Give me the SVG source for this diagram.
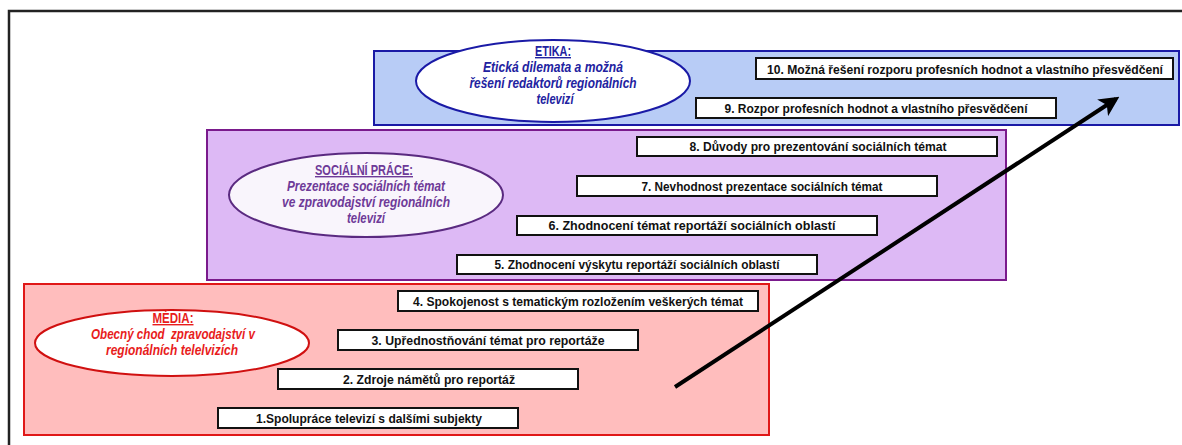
<svg xmlns="http://www.w3.org/2000/svg" width="1182" height="445" viewBox="0 0 1182 445">
<style>
  .box{fill:#ffffff;stroke:#111111;stroke-width:2}
  .bt{font-family:"Liberation Sans",Arial,sans-serif;font-weight:bold;font-size:12.5px;fill:#111111;text-anchor:middle}
  .hd{font-family:"Liberation Sans",Arial,sans-serif;font-weight:bold;font-size:14px;text-anchor:middle;text-decoration:underline}
  .it{font-family:"Liberation Sans",Arial,sans-serif;font-weight:bold;font-style:italic;font-size:14px;text-anchor:middle}
  .blue{fill:#2222a0}
  .purp{fill:#6e3a98}
  .red{fill:#e81c1c}
</style>
<defs>
  <marker id="ah" viewBox="0 0 10 10" refX="8" refY="5" markerWidth="5" markerHeight="5" orient="auto" markerUnits="strokeWidth">
    <path d="M0,0 L10,5 L0,10 L2.5,5 Z" fill="#000"/>
  </marker>
</defs>
<rect width="1182" height="445" fill="#ffffff"/>
<path d="M9,445 L9,11 L1182,11" fill="none" stroke="#222" stroke-width="2.5"/>

<g id="etika">
  <rect x="374" y="51" width="805" height="74" fill="#b8ccf6" stroke="#1a1aa6" stroke-width="2"/>
  <ellipse cx="553" cy="81" rx="137" ry="41" fill="#ffffff" stroke="#1a1aa6" stroke-width="2"/>
  <text class="hd blue" x="553" y="56" textLength="36" lengthAdjust="spacingAndGlyphs">ETIKA:</text>
  <text class="it blue" x="553" y="72" textLength="140" lengthAdjust="spacingAndGlyphs">Etická dilemata a možná</text>
  <text class="it blue" x="553" y="88" textLength="167" lengthAdjust="spacingAndGlyphs">řešení redaktorů regionálních</text>
  <text class="it blue" x="555" y="104" textLength="37" lengthAdjust="spacingAndGlyphs">televizí</text>
</g>
<g id="n10">
  <rect class="box" x="756" y="58" width="417" height="21"/>
  <text class="bt" x="965" y="73.5" textLength="396" lengthAdjust="spacingAndGlyphs">10. Možná řešení rozporu profesních hodnot a vlastního přesvědčení</text>
</g>
<g id="n9">
  <rect class="box" x="696" y="98" width="360" height="20"/>
  <text class="bt" x="876" y="113" textLength="303" lengthAdjust="spacingAndGlyphs">9. Rozpor profesních hodnot a vlastního přesvědčení</text>
</g>

<g id="socialni">
  <rect x="207" y="130" width="799" height="150" fill="#ddb9f5" stroke="#7a1a8c" stroke-width="2"/>
  <ellipse cx="366" cy="195" rx="137" ry="42" fill="#f9f5fc" stroke="#5a2a80" stroke-width="2"/>
  <text class="hd purp" x="364" y="175" textLength="98" lengthAdjust="spacingAndGlyphs">SOCIÁLNÍ PRÁCE:</text>
  <text class="it purp" x="366" y="191" textLength="158" lengthAdjust="spacingAndGlyphs">Prezentace sociálních témat</text>
  <text class="it purp" x="366" y="207" textLength="168" lengthAdjust="spacingAndGlyphs">ve zpravodajství regionálních</text>
  <text class="it purp" x="366" y="223" textLength="38" lengthAdjust="spacingAndGlyphs">televizí</text>
</g>
<g id="n8">
  <rect class="box" x="637" y="137" width="360" height="19"/>
  <text class="bt" x="818" y="151" textLength="257" lengthAdjust="spacingAndGlyphs">8. Důvody pro prezentování sociálních témat</text>
</g>
<g id="n7">
  <rect class="box" x="577" y="176" width="360" height="20"/>
  <text class="bt" x="762" y="191" textLength="241" lengthAdjust="spacingAndGlyphs">7. Nevhodnost prezentace sociálních témat</text>
</g>
<g id="n6">
  <rect class="box" x="517" y="216" width="360" height="19"/>
  <text class="bt" x="692" y="230" textLength="287" lengthAdjust="spacingAndGlyphs">6. Zhodnocení témat reportáží sociálních oblastí</text>
</g>
<g id="n5">
  <rect class="box" x="457" y="255" width="360" height="19"/>
  <text class="bt" x="637" y="269" textLength="285" lengthAdjust="spacingAndGlyphs">5. Zhodnocení výskytu reportáží sociálních oblastí</text>
</g>

<g id="media">
  <rect x="24" y="284" width="745" height="151" fill="#ffbdbd" stroke="#e01818" stroke-width="2"/>
  <ellipse cx="172" cy="343" rx="137" ry="33" fill="#ffffff" stroke="#d01010" stroke-width="2"/>
  <text class="hd red" x="173" y="323" textLength="41" lengthAdjust="spacingAndGlyphs">MÉDIA:</text>
  <text class="it red" x="173" y="339" textLength="164" lengthAdjust="spacingAndGlyphs" xml:space="preserve">Obecný chod  zpravodajství v</text>
  <text class="it red" x="172" y="355" textLength="132" lengthAdjust="spacingAndGlyphs">regionálních telelvizích</text>
</g>
<g id="n4">
  <rect class="box" x="398" y="291" width="360" height="20"/>
  <text class="bt" x="578" y="306" textLength="330" lengthAdjust="spacingAndGlyphs">4. Spokojenost s tematickým rozložením veškerých témat</text>
</g>
<g id="n3">
  <rect class="box" x="338" y="330" width="300" height="20"/>
  <text class="bt" x="488" y="345" textLength="233" lengthAdjust="spacingAndGlyphs">3. Upřednostňování témat pro reportáže</text>
</g>
<g id="n2">
  <rect class="box" x="278" y="369" width="300" height="20"/>
  <text class="bt" x="429" y="384" textLength="172" lengthAdjust="spacingAndGlyphs">2. Zdroje námětů pro reportáž</text>
</g>
<g id="n1">
  <rect class="box" x="218" y="408" width="300" height="20"/>
  <text class="bt" x="369" y="423" textLength="226" lengthAdjust="spacingAndGlyphs">1.Spolupráce televizí s dalšími subjekty</text>
</g>

<g id="connectors">
  <line x1="675" y1="387" x2="1116" y2="99" stroke="#000" stroke-width="4" marker-end="url(#ah)"/>
</g>
</svg>
